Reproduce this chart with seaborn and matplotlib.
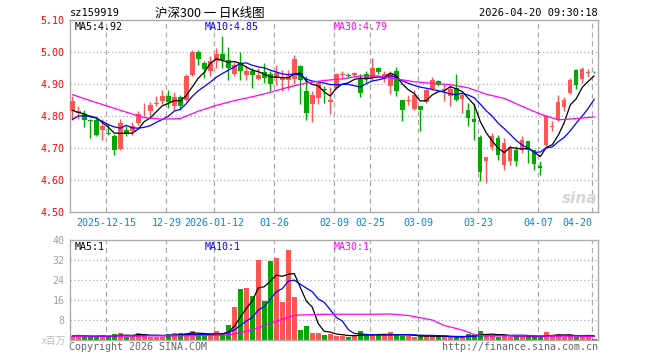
import numpy as np
import pandas as pd
import matplotlib
matplotlib.use("Agg")
import matplotlib.pyplot as plt
import seaborn as sns

# ---------------- data ----------------
opens = [4.815, 4.810, 4.807, 4.785, 4.786, 4.755, 4.746, 4.739, 4.697, 4.755,
         4.752, 4.778, 4.811, 4.815, 4.838, 4.846, 4.864, 4.832, 4.858, 4.851,
         4.927, 5.000, 4.966, 4.942, 4.971, 4.995, 4.976, 4.932, 4.966, 4.927,
         4.940, 4.917, 4.937, 4.931, 4.919, 4.914, 4.914, 4.915, 4.955, 4.877,
         4.838, 4.855, 4.884, 4.843, 4.889, 4.928, 4.927, 4.928, 4.919, 4.930,
         4.919, 4.950, 4.915, 4.893, 4.940, 4.851, 4.848, 4.822, 4.832, 4.843,
         4.884, 4.908, 4.881, 4.864, 4.888, 4.853, 4.818, 4.790, 4.734, 4.658,
         4.703, 4.731, 4.648, 4.658, 4.695, 4.695, 4.721, 4.693, 4.645, 4.710,
         4.767, 4.789, 4.828, 4.872, 4.945, 4.916, 4.935, 4.937]
highs = [4.862, 4.832, 4.818, 4.790, 4.794, 4.790, 4.778, 4.745, 4.792, 4.770,
         4.780, 4.817, 4.840, 4.843, 4.863, 4.882, 4.882, 4.876, 4.867, 4.930,
         5.007, 5.007, 4.973, 4.986, 5.012, 5.049, 5.015, 4.970, 5.000, 4.955,
         4.950, 4.950, 4.966, 4.940, 4.958, 4.945, 4.945, 4.990, 4.960, 4.924,
         4.877, 4.910, 4.893, 4.890, 4.935, 4.940, 4.935, 4.938, 4.930, 4.940,
         4.980, 4.952, 4.940, 4.940, 4.953, 4.851, 4.867, 4.882, 4.832, 4.884,
         4.922, 4.913, 4.900, 4.897, 4.932, 4.872, 4.840, 4.840, 4.742, 4.672,
         4.747, 4.742, 4.731, 4.710, 4.705, 4.737, 4.721, 4.693, 4.658, 4.804,
         4.783, 4.867, 4.859, 4.919, 4.947, 4.953, 4.947, 4.940]
lows = [4.789, 4.790, 4.766, 4.731, 4.736, 4.724, 4.740, 4.679, 4.695, 4.736,
        4.742, 4.773, 4.800, 4.800, 4.830, 4.839, 4.825, 4.820, 4.820, 4.846,
        4.924, 4.958, 4.919, 4.924, 4.950, 4.950, 4.914, 4.924, 4.914, 4.914,
        4.888, 4.914, 4.903, 4.879, 4.896, 4.877, 4.880, 4.900, 4.838, 4.787,
        4.780, 4.838, 4.840, 4.805, 4.883, 4.917, 4.918, 4.922, 4.860, 4.906,
        4.914, 4.930, 4.905, 4.870, 4.864, 4.783, 4.833, 4.820, 4.752, 4.840,
        4.880, 4.893, 4.846, 4.830, 4.846, 4.810, 4.768, 4.726, 4.596, 4.590,
        4.695, 4.664, 4.632, 4.648, 4.643, 4.684, 4.653, 4.632, 4.617, 4.707,
        4.752, 4.783, 4.815, 4.870, 4.884, 4.903, 4.922, 4.933]
closes = [4.848, 4.817, 4.786, 4.783, 4.742, 4.770, 4.744, 4.695, 4.778, 4.745,
          4.770, 4.807, 4.813, 4.835, 4.841, 4.864, 4.843, 4.858, 4.830, 4.924,
          5.000, 4.979, 4.948, 4.971, 4.995, 4.976, 4.950, 4.960, 4.940, 4.940,
          4.927, 4.927, 4.919, 4.900, 4.934, 4.919, 4.925, 4.978, 4.914, 4.809,
          4.867, 4.903, 4.882, 4.851, 4.930, 4.931, 4.925, 4.934, 4.872, 4.917,
          4.950, 4.937, 4.930, 4.935, 4.877, 4.820, 4.850, 4.867, 4.820, 4.882,
          4.911, 4.898, 4.883, 4.884, 4.849, 4.867, 4.794, 4.780, 4.624, 4.672,
          4.739, 4.679, 4.716, 4.703, 4.658, 4.726, 4.695, 4.651, 4.636, 4.801,
          4.769, 4.843, 4.849, 4.911, 4.898, 4.947, 4.937, 4.936]
volumes = [1.6, 2.0, 1.3, 1.1, 1.3, 2.0, 1.1, 2.4, 2.8, 1.3,
           1.6, 2.7, 2.3, 1.3, 1.3, 1.3, 2.4, 2.8, 2.7, 2.7,
           3.6, 1.9, 1.9, 1.9, 3.6, 2.4, 6.0, 13.3, 20.4, 20.8,
           17.6, 32.0, 15.7, 31.6, 32.8, 15.3, 36.0, 17.2, 4.0, 5.6,
           2.9, 2.9, 2.0, 2.5, 1.6, 1.6, 1.3, 1.6, 3.6, 1.9,
           1.9, 1.9, 1.9, 3.2, 1.9, 1.6, 1.6, 1.1, 1.9, 1.6,
           1.6, 1.1, 1.3, 1.3, 1.1, 1.3, 2.4, 1.9, 3.6, 1.9,
           1.9, 1.3, 1.9, 1.3, 1.6, 1.3, 1.3, 1.3, 1.6, 3.2,
           1.6, 2.4, 1.3, 1.9, 1.3, 1.6, 1.9, 0.5]

# moving-average lead-in values (need history before the window)
ma5_head = [4.818, 4.811, 4.807, 4.797]
ma10_head = [4.789, 4.800, 4.800, 4.800, 4.793, 4.783, 4.773, 4.766, 4.762]
# MA30
ma30_idx = [0, 3, 6, 9, 12, 15, 18, 21, 24, 27, 30, 33, 36, 39, 42, 45, 48, 51,
            54, 57, 60, 63, 66, 69, 72, 75, 78, 81, 84, 87]
ma30_val = [4.867, 4.848, 4.830, 4.812, 4.795, 4.790, 4.792, 4.815, 4.833, 4.848,
            4.860, 4.874, 4.890, 4.903, 4.911, 4.916, 4.925, 4.925, 4.916, 4.907,
            4.902, 4.898, 4.888, 4.868, 4.855, 4.830, 4.806, 4.788, 4.792, 4.797]
vma30_idx = [0, 10, 20, 25, 27, 30, 32, 35, 37, 38, 43, 50, 53, 56, 60, 62, 65,
             67, 69, 75, 80, 87]
vma30_val = [1.6, 1.6, 1.7, 1.9, 2.4, 4.0, 5.8, 8.3, 9.8, 10.0, 10.3, 10.3, 10.4,
             9.8, 8.0, 5.8, 4.0, 2.2, 1.7, 1.6, 1.6, 1.5]

tick_idx = [6, 16, 24, 34, 44, 50, 58, 68, 78, 87]
tick_labels = ["2025-12-15", "12-29", "2026-01-12", "01-26", "02-09",
               "02-25", "03-09", "03-23", "04-07", "04-20"]
price_ticks = [4.50, 4.60, 4.70, 4.80, 4.90, 5.00, 5.10]
vol_ticks = [8, 16, 24, 32, 40]

# ---------------- styling ----------------
sns.set_theme(style="white")
plt.rcParams['font.family'] = ['DejaVu Sans Mono', 'Noto Sans CJK SC']
CJK = ['Noto Sans CJK SC', 'DejaVu Sans']
RED = "#FF5555"
GREEN = "#00A800"
GRID = "#AAAAAA"
W, H = 660, 360

df = pd.DataFrame({"o": opens, "h": highs, "l": lows, "c": closes, "v": volumes})
df["i"] = np.arange(len(df))
df["up"] = df["c"] >= df["o"]
df["col"] = np.where(df["up"], RED, GREEN)

ma5 = df["c"].rolling(5).mean().to_numpy()
ma5[:len(ma5_head)] = ma5_head
ma10 = df["c"].rolling(10).mean().to_numpy()
ma10[:len(ma10_head)] = ma10_head
vma5 = df["v"].rolling(5, min_periods=1).mean()
vma10 = df["v"].rolling(10, min_periods=1).mean()

fig = plt.figure(figsize=(W / 100, H / 100), dpi=100)
fig.patch.set_facecolor("white")
ax = fig.add_axes([70 / W, 1 - 212 / H, 528 / W, 192 / H])
axv = fig.add_axes([70 / W, 1 - 340 / H, 528 / W, 100 / H])

xlo, xhi = -0.38, len(df) - 0.38
for a in (ax, axv):
    a.set_xlim(xlo, xhi)
    a.set_facecolor("white")
    for s in a.spines.values():
        s.set_color(GRID)
        s.set_linewidth(1.0)
    for t in tick_idx:
        a.axvline(t - 0.3, color=GRID, ls=(0, (4, 3)), lw=0.9, zorder=0)
    a.tick_params(length=0)

# ---- price panel ----
ax.set_ylim(4.50, 5.10)
for y in price_ticks[1:-1]:
    ax.axhline(y, color=GRID, ls=(0, (1, 2)), lw=0.9, zorder=0)
ax.vlines(df["i"], df["l"], df["h"], colors=df["col"], lw=1.0, zorder=2)
body_h = np.maximum((df["c"] - df["o"]).abs(), 0.003)
ax.bar(df["i"], body_h, bottom=np.minimum(df["o"], df["c"]), width=0.74,
       color=df["col"], linewidth=0, zorder=3)
sns.lineplot(x=df["i"], y=ma5, ax=ax, color="black", lw=0.9, zorder=4)
sns.lineplot(x=df["i"], y=ma10, ax=ax, color="#0000FF", lw=0.9, zorder=4)
sns.lineplot(x=ma30_idx, y=ma30_val, ax=ax, color="#FF00FF", lw=0.9, zorder=4)
ax.set_yticks(price_ticks)
ax.set_yticklabels([f"{p:.2f}" for p in price_ticks], color="#FF0000", fontsize=7.2)
ax.tick_params(axis="y", pad=4)
ax.set_xticks([t - 0.3 for t in tick_idx])
ax.set_xticklabels(tick_labels, color="#0A84D8", fontsize=7.2)
ax.tick_params(axis="x", pad=4)
ax.get_xticklabels()[-1].set_ha("right")
ax.set_xlabel("")
ax.set_ylabel("")

# ---- volume panel ----
axv.set_ylim(0, 40)
for y in vol_ticks[:-1]:
    axv.axhline(y, color=GRID, ls=(0, (1, 2)), lw=0.9, zorder=0)
axv.bar(df["i"], df["v"], width=0.8, color=df["col"], linewidth=0, zorder=2)
sns.lineplot(x=df["i"], y=vma5, ax=axv, color="black", lw=0.9, zorder=4)
sns.lineplot(x=df["i"], y=vma10, ax=axv, color="#0000FF", lw=0.9, zorder=4)
sns.lineplot(x=vma30_idx, y=vma30_val, ax=axv, color="#FF00FF", lw=0.9, zorder=4)
axv.set_yticks(vol_ticks)
axv.set_yticklabels([str(v) for v in vol_ticks], color="#A0A0A0", fontsize=7.2)
axv.tick_params(axis="y", pad=4)
axv.set_xticks([])
axv.set_xlabel("")
axv.set_ylabel("")

# ---- texts ----
def ft(x, y, s, **kw):
    fig.text(x / W, 1 - y / H, s, va="center", **kw)

ft(70, 13, "sz159919", ha="left", fontsize=7.5, color="black")
ft(210, 13, "沪深300 一 日K线图", ha="center", fontsize=9, color="black", family=CJK)
ft(598, 13, "2026-04-20 09:30:18", ha="right", fontsize=7.5, color="black")
ft(75, 27, "MA5:4.92", ha="left", fontsize=7.2, color="black")
ft(205, 27, "MA10:4.85", ha="left", fontsize=7.2, color="#0000FF")
ft(334, 27, "MA30:4.79", ha="left", fontsize=7.2, color="#FF00FF")
ft(75, 247, "MA5:1", ha="left", fontsize=7.2, color="black")
ft(205, 247, "MA10:1", ha="left", fontsize=7.2, color="#0000FF")
ft(334, 247, "MA30:1", ha="left", fontsize=7.2, color="#FF00FF")
ft(66, 341, "x百万", ha="right", fontsize=7, color="#BBBBBB", family=CJK)
ft(69, 347, "Copyright 2026 SINA.COM", ha="left", fontsize=7.2, color="#666666")
ft(598, 347, "http://finance.sina.com.cn", ha="right", fontsize=7.2, color="#666666")
ft(580, 198, "sina", ha="center", fontsize=11, color="#D5D5D5",
   style="italic", weight="bold", family=["DejaVu Sans"])

fig.savefig("out.png", dpi=100, facecolor="white")
